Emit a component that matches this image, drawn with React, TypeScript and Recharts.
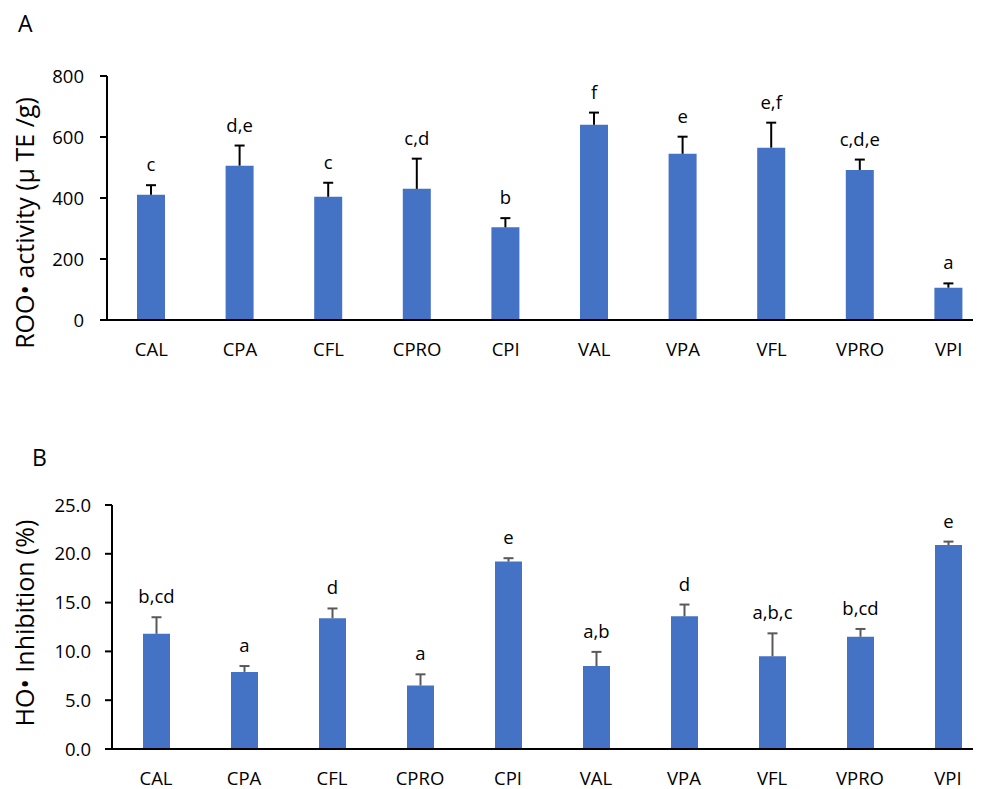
import React from 'react'
import { Bar, BarChart, LabelList, XAxis, YAxis } from 'recharts'

// Antioxidant activity of the ten extracts (mean + SD, with Tukey letters)
const categories = ['CAL', 'CPA', 'CFL', 'CPRO', 'CPI', 'VAL', 'VPA', 'VFL', 'VPRO', 'VPI']

const rooMean = [411, 506, 404, 430, 304, 640, 545, 565, 492, 106]
const rooSd = [31, 66, 46, 99, 30, 40, 56, 82, 34, 14]
const rooSig = ['c', 'd,e', 'c', 'c,d', 'b', 'f', 'e', 'e,f', 'c,d,e', 'a']
const rooTicks = [0, 200, 400, 600, 800]

const hoMean = [11.8, 7.9, 13.4, 6.5, 19.2, 8.5, 13.6, 9.5, 11.5, 20.9]
const hoSd = [1.7, 0.6, 1.0, 1.15, 0.35, 1.45, 1.2, 2.35, 0.8, 0.35]
const hoSig = ['b,cd', 'a', 'd', 'a', 'e', 'a,b', 'd', 'a,b,c', 'b,cd', 'e']
const hoTicks = [0, 5, 10, 15, 20, 25]

const FONT = '"Open Sans", Lato, sans-serif'
const BLUE = '#4472C4'

const rooRows = categories.map((name, i) => ({
  name,
  mean: rooMean[i],
  sd: rooSd[i],
  sig: rooSig[i],
}))

const hoRows = categories.map((name, i) => ({
  name,
  mean: hoMean[i],
  sd: hoSd[i],
  sig: hoSig[i],
}))

// plus-only error bar drawn over the stacked sd segment
const errShape = (color: string) => (props: any) => {
  const { x, y, width, height } = props
  const cx = x + width / 2
  return (
    <g>
      <line x1={cx} x2={cx} y1={y + height} y2={y} stroke={color} strokeWidth={2} />
      <line x1={cx - 5} x2={cx + 5} y1={y} y2={y} stroke={color} strokeWidth={2} />
    </g>
  )
}

const yLabel = (text: string, dy: number) => (props: any) => {
  const vb = props.viewBox
  const cx = 26
  const cy = vb.y + vb.height / 2 + dy
  return (
    <text
      x={cx}
      y={cy}
      transform={`rotate(-90 ${cx} ${cy})`}
      textAnchor="middle"
      fontFamily={FONT}
      fontSize={25}
      fill="#000"
    >
      {text}
    </text>
  )
}

const tickStyle = { fontFamily: FONT, fontSize: 18.5, fill: '#000' }
const sigStyle = { fontFamily: FONT, fontSize: 18.5, fill: '#000' }

export default function App() {
  return (
    <div style={{ position: 'relative', width: 973, height: 781, overflow: 'hidden' }}>
      <svg
        width={973}
        height={781}
        style={{ position: 'absolute', left: 0, top: 0, pointerEvents: 'none', zIndex: 2 }}
      >
        <text x={10} y={24} fontFamily={FONT} fontSize={23} fill="#000">A</text>
        <text x={24} y={458} fontFamily={FONT} fontSize={23} fill="#000">B</text>
      </svg>

      <div style={{ position: 'absolute', left: 0, top: 0 }}>
        <BarChart
          width={1000}
          height={392}
          data={rooRows}
          margin={{ top: 68, right: 15, bottom: 0, left: 0 }}
          barSize={28}
        >
          <XAxis
            dataKey="name"
            interval={0}
            tickLine={false}
            tickSize={0}
            tickMargin={23}
            height={80}
            axisLine={{ stroke: '#000', strokeWidth: 2 }}
            tick={tickStyle}
          />
          <YAxis
            width={99}
            domain={[0, 800]}
            ticks={rooTicks}
            tickSize={7}
            tickMargin={16}
            axisLine={{ stroke: '#000', strokeWidth: 2 }}
            tickLine={{ stroke: '#000', strokeWidth: 2 }}
            tick={tickStyle}
            label={{ content: yLabel('ROO• activity (µ TE /g)', 25) }}
          />
          <Bar dataKey="mean" stackId="roo" fill={BLUE} isAnimationActive={false} />
          <Bar
            dataKey="sd"
            stackId="roo"
            fill="none"
            shape={errShape('#000')}
            isAnimationActive={false}
          >
            <LabelList dataKey="sig" position="top" offset={14} style={sigStyle} />
          </Bar>
        </BarChart>
      </div>

      <div style={{ position: 'absolute', left: 0, top: 392 }}>
        <BarChart
          width={1000}
          height={389}
          data={hoRows}
          margin={{ top: 105, right: 16, bottom: 0, left: 0 }}
          barSize={27}
        >
          <XAxis
            dataKey="name"
            interval={0}
            tickLine={false}
            tickSize={0}
            tickMargin={23}
            height={40}
            axisLine={{ stroke: '#000', strokeWidth: 2 }}
            tick={tickStyle}
          />
          <YAxis
            width={104}
            domain={[0, 25]}
            ticks={hoTicks}
            tickFormatter={(v: number) => v.toFixed(1)}
            tickSize={7}
            tickMargin={14}
            axisLine={{ stroke: '#000', strokeWidth: 2 }}
            tickLine={{ stroke: '#000', strokeWidth: 2 }}
            tick={tickStyle}
            label={{ content: yLabel('HO• Inhibition (%)', -4) }}
          />
          <Bar dataKey="mean" stackId="ho" fill={BLUE} isAnimationActive={false} />
          <Bar
            dataKey="sd"
            stackId="ho"
            fill="none"
            shape={errShape('#595959')}
            isAnimationActive={false}
          >
            <LabelList dataKey="sig" position="top" offset={14} style={sigStyle} />
          </Bar>
        </BarChart>
      </div>
    </div>
  )
}
